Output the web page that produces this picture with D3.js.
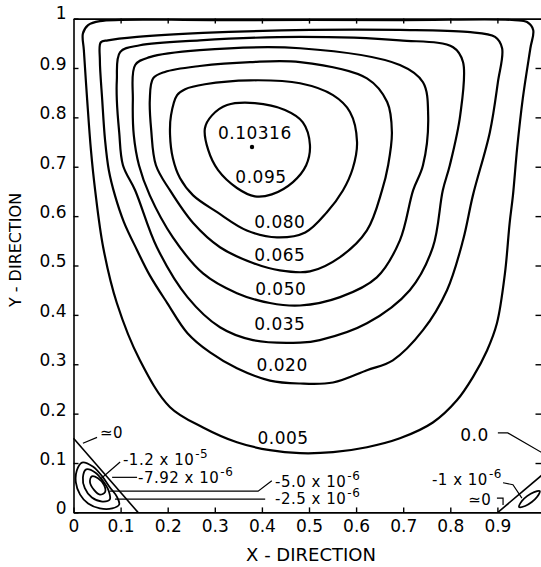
<!DOCTYPE html>
<html>
<head>
<meta charset="utf-8">
<script src="https://cdn.jsdelivr.net/npm/d3@7"></script>
<style>
  body { margin: 0; background: #fff; }
  svg { display: block; }
</style>
</head>
<body>
<div id="chart"></div>
<script>
// tick values
const xTicks = [0, 0.1, 0.2, 0.3, 0.4, 0.5, 0.6, 0.7, 0.8, 0.9];
const yTicks = [0, 0.1, 0.2, 0.3, 0.4, 0.5, 0.6, 0.7, 0.8, 0.9, 1];
const frameTicks = [0.1, 0.2, 0.3, 0.4, 0.5, 0.6, 0.7, 0.8, 0.9];

// primary vortex streamlines (x, y)
const psi005 = [[0.056,0.995],[0.031,0.987],[0.020,0.970],[0.022,0.936],[0.029,0.836],[0.037,0.734],[0.046,0.652],[0.063,0.537],[0.092,0.424],[0.141,0.308],[0.205,0.213],[0.275,0.172],[0.347,0.142],[0.417,0.126],[0.481,0.120],[0.551,0.122],[0.623,0.132],[0.693,0.150],[0.763,0.182],[0.814,0.227],[0.848,0.274],[0.878,0.328],[0.899,0.383],[0.916,0.484],[0.926,0.586],[0.933,0.642],[0.942,0.738],[0.954,0.839],[0.970,0.940],[0.976,0.977],[0.963,0.993],[0.937,0.997],[0.700,0.997],[0.300,0.997]];
const psi020 = [[0.058,0.952],[0.056,0.916],[0.061,0.835],[0.067,0.754],[0.075,0.693],[0.088,0.642],[0.107,0.588],[0.135,0.531],[0.162,0.480],[0.199,0.424],[0.242,0.363],[0.290,0.324],[0.347,0.292],[0.417,0.267],[0.481,0.261],[0.551,0.263],[0.623,0.288],[0.678,0.308],[0.742,0.369],[0.793,0.450],[0.827,0.551],[0.848,0.642],[0.884,0.770],[0.901,0.871],[0.910,0.940],[0.895,0.963],[0.836,0.973],[0.693,0.977],[0.502,0.977],[0.275,0.971],[0.135,0.963],[0.073,0.956]];
const psi035 = [[0.099,0.932],[0.092,0.875],[0.092,0.835],[0.097,0.770],[0.105,0.703],[0.131,0.652],[0.177,0.537],[0.242,0.436],[0.311,0.375],[0.381,0.349],[0.481,0.344],[0.523,0.349],[0.623,0.383],[0.714,0.450],[0.763,0.537],[0.784,0.652],[0.799,0.703],[0.821,0.804],[0.827,0.912],[0.806,0.942],[0.693,0.956],[0.481,0.963],[0.268,0.956],[0.141,0.946]];
const psi050 = [[0.131,0.906],[0.126,0.835],[0.128,0.764],[0.139,0.703],[0.162,0.642],[0.211,0.557],[0.275,0.484],[0.347,0.444],[0.417,0.424],[0.481,0.419],[0.566,0.436],[0.644,0.476],[0.693,0.551],[0.721,0.652],[0.742,0.703],[0.753,0.804],[0.742,0.871],[0.693,0.906],[0.481,0.940],[0.268,0.936],[0.162,0.922]];
const psi065 = [[0.169,0.879],[0.162,0.835],[0.165,0.774],[0.175,0.703],[0.205,0.652],[0.254,0.586],[0.311,0.537],[0.381,0.505],[0.438,0.490],[0.502,0.488],[0.566,0.517],[0.623,0.571],[0.655,0.652],[0.668,0.703],[0.676,0.770],[0.666,0.831],[0.623,0.879],[0.481,0.912],[0.375,0.912],[0.268,0.904],[0.194,0.892]];
const psi080 = [[0.220,0.845],[0.207,0.804],[0.205,0.764],[0.211,0.717],[0.226,0.677],[0.254,0.642],[0.305,0.608],[0.368,0.571],[0.432,0.557],[0.492,0.567],[0.538,0.608],[0.572,0.652],[0.593,0.697],[0.602,0.750],[0.587,0.811],[0.551,0.845],[0.481,0.869],[0.375,0.875],[0.279,0.867],[0.237,0.857]];
const psi095 = [[0.279,0.778],[0.294,0.804],[0.326,0.825],[0.385,0.829],[0.449,0.815],[0.487,0.790],[0.502,0.744],[0.494,0.703],[0.466,0.669],[0.421,0.644],[0.385,0.640],[0.347,0.657],[0.307,0.693],[0.286,0.734]];
const vortexCenter = [0.379, 0.740];

// bottom-left secondary eddy
const sepLeft = [[0, 0.150], [0.137, 0]];
const eddyLeftOuter = [[0.018,0.101],[0.007,0.085],[0.005,0.061],[0.014,0.036],[0.031,0.018],[0.056,0.008],[0.082,0.008],[0.097,0.016],[0.092,0.032],[0.077,0.051],[0.061,0.073],[0.041,0.093]];
const eddyLeftMid = [[0.027,0.087],[0.020,0.071],[0.024,0.049],[0.039,0.030],[0.061,0.022],[0.077,0.026],[0.075,0.043],[0.063,0.063],[0.046,0.081]];
const eddyLeftInner = [[0.039,0.073],[0.035,0.061],[0.044,0.045],[0.056,0.036],[0.067,0.041],[0.065,0.055],[0.052,0.069]];

// bottom-right secondary eddy
const sepRight = [[0.901, 0], [1.0, 0.080]];
const eddyRight = [[0.990,0.043],[0.978,0.041],[0.963,0.033],[0.952,0.023],[0.946,0.011],[0.959,0.013],[0.973,0.021],[0.984,0.031]];

// contour value labels
const levelLabels = [
  { text: '0.10316', x: 0.385, y: 0.768 },
  { text: '0.095', x: 0.398, y: 0.679 },
  { text: '0.080', x: 0.438, y: 0.588 },
  { text: '0.065', x: 0.438, y: 0.521 },
  { text: '0.050', x: 0.440, y: 0.453 },
  { text: '0.035', x: 0.438, y: 0.382 },
  { text: '0.020', x: 0.443, y: 0.298 },
  { text: '0.005', x: 0.445, y: 0.150 }
];

// eddy labels: base text, exponent, left x, centre y
const eddyLabels = [
  { text: '\u22430', sup: '', x: 0.056, y: 0.161 },
  { text: '-1.2 x 10', sup: '-5', x: 0.105, y: 0.106 },
  { text: '-7.92 x 10', sup: '-6', x: 0.137, y: 0.070 },
  { text: '-5.0 x 10', sup: '-6', x: 0.428, y: 0.062 },
  { text: '-2.5 x 10', sup: '-6', x: 0.428, y: 0.027 },
  { text: '0.0', sup: '', x: 0.821, y: 0.157, big: true },
  { text: '-1 x 10', sup: '-6', x: 0.761, y: 0.066 },
  { text: '\u22430', sup: '', x: 0.838, y: 0.025 }
];

const leaders = [
  [[0.020,0.140],[0.050,0.152]],
  [[0.099,0.102],[0.058,0.068]],
  [[0.135,0.071],[0.082,0.071]],
  [[0.077,0.043],[0.392,0.043],[0.421,0.064]],
  [[0.088,0.027],[0.407,0.027]],
  [[0.901,0.161],[0.922,0.161],[1.0,0.118]],
  [[0.912,0.060],[0.933,0.056],[0.952,0.029]],
  [[0.899,0.029],[0.912,0.029],[0.912,0.015]]
];

const width = 541;
const height = 567;
const font = 'DejaVu Sans';

const svg = d3.select('#chart').append('svg')
  .attr('width', width)
  .attr('height', height)
  .attr('viewBox', `0 0 ${width} ${height}`);

const x = d3.scaleLinear().domain([0, 1]).range([73.5, 544.5]);
const y = d3.scaleLinear().domain([0, 1]).range([512.4, 18.6]);

const closedLine = d3.line()
  .x(d => x(d[0]))
  .y(d => y(d[1]))
  .curve(d3.curveCatmullRomClosed.alpha(0.5));
const openLine = d3.line()
  .x(d => x(d[0]))
  .y(d => y(d[1]));

const fmt = d => (d === 0 ? '0' : d === 1 ? '1' : d3.format('.1f')(d));

// axes: ticks point into the cavity
const styleAxis = (g) => {
  g.select('.domain').attr('stroke', '#000').attr('stroke-width', 1.6);
  g.selectAll('.tick line').attr('stroke', '#000').attr('stroke-width', 1.4);
  g.selectAll('.tick text').attr('fill', '#000');
  g.attr('font-family', font).attr('font-size', 17);
};

svg.append('g')
  .attr('transform', `translate(0,${y(0)})`)
  .call(d3.axisBottom(x).tickValues(xTicks).tickFormat(fmt).tickSizeInner(-5).tickSizeOuter(0).tickPadding(8))
  .call(styleAxis);

svg.append('g')
  .attr('transform', `translate(${x(0)},0)`)
  .call(d3.axisLeft(y).tickValues(yTicks).tickFormat(fmt).tickSizeInner(-5).tickSizeOuter(0).tickPadding(7))
  .call(styleAxis)
  .selectAll('.tick text')
  .attr('y', d => (d === 1 ? -6 : -4));

svg.append('g')
  .attr('transform', `translate(0,${y(1)})`)
  .call(d3.axisTop(x).tickValues(frameTicks).tickFormat('').tickSizeInner(-5).tickSizeOuter(0))
  .call(styleAxis);

svg.append('g')
  .attr('transform', `translate(${x(1)},0)`)
  .call(d3.axisRight(y).tickValues(frameTicks).tickFormat('').tickSizeInner(-9).tickSizeOuter(0))
  .call(styleAxis);

// axis titles
svg.append('text')
  .attr('x', 311)
  .attr('y', 561)
  .attr('text-anchor', 'middle')
  .attr('font-family', font)
  .attr('font-size', 18)
  .text('X - DIRECTION');

svg.append('text')
  .attr('transform', 'translate(21,250) rotate(-90)')
  .attr('text-anchor', 'middle')
  .attr('font-family', font)
  .attr('font-size', 16)
  .text('Y - DIRECTION');

// streamlines
const contours = svg.append('g').attr('fill', 'none').attr('stroke', '#000');

[psi005, psi020, psi035, psi050, psi065, psi080, psi095].forEach((pts) => {
  contours.append('path')
    .attr('d', closedLine(pts))
    .attr('stroke-width', 2.2);
});

[eddyLeftOuter, eddyLeftMid, eddyLeftInner, eddyRight].forEach((pts) => {
  contours.append('path')
    .attr('d', closedLine(pts))
    .attr('stroke-width', 1.8);
});

[sepLeft, sepRight].forEach((pts) => {
  contours.append('path')
    .attr('d', openLine(pts))
    .attr('stroke-width', 1.6);
});

leaders.forEach((pts) => {
  contours.append('path')
    .attr('d', openLine(pts))
    .attr('stroke-width', 1.2);
});

svg.append('circle')
  .attr('cx', x(vortexCenter[0]))
  .attr('cy', y(vortexCenter[1]))
  .attr('r', 2.2)
  .attr('fill', '#000');

// labels
svg.append('g')
  .attr('font-family', font)
  .attr('font-size', 17)
  .attr('text-anchor', 'middle')
  .selectAll('text')
  .data(levelLabels)
  .join('text')
  .attr('x', d => x(d.x))
  .attr('y', d => y(d.y))
  .attr('dy', '0.36em')
  .attr('letter-spacing', 0.5)
  .text(d => d.text);

const eddyText = svg.append('g')
  .attr('font-family', font)
  .selectAll('text')
  .data(eddyLabels)
  .join('text')
  .attr('x', d => x(d.x))
  .attr('y', d => y(d.y))
  .attr('dy', '0.36em')
  .attr('font-size', d => (d.big ? 17 : 15))
  .attr('letter-spacing', 0.5);

eddyText.append('tspan').text(d => d.text);
eddyText.filter(d => d.sup)
  .append('tspan')
  .attr('dy', -7)
  .attr('dx', 1)
  .attr('font-size', 12)
  .text(d => d.sup);
</script>
</body>
</html>
